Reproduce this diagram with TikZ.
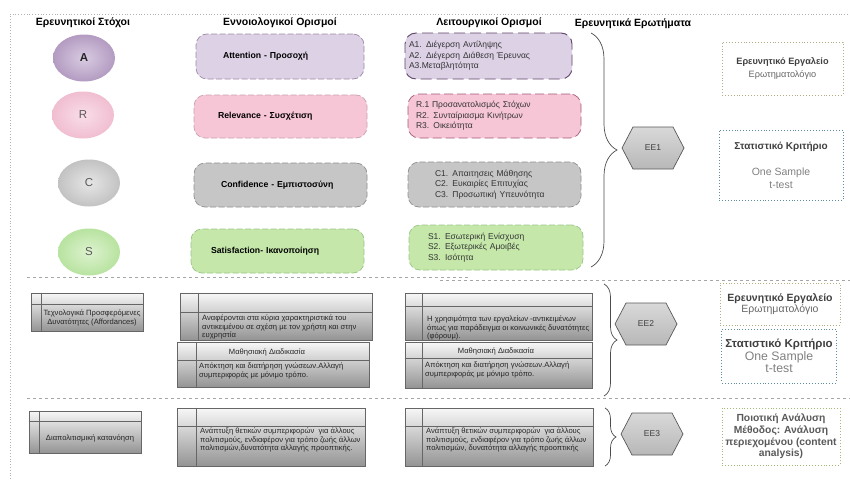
\documentclass[tikz,border=0pt]{standalone}
\usepackage{fontspec}
\setmainfont{Liberation Sans}
\usetikzlibrary{positioning}
\usetikzlibrary{calc}
\usetikzlibrary{shapes.geometric}
\usetikzlibrary{decorations.pathreplacing}

\definecolor{purpFill}{HTML}{DDD1E6}
\definecolor{purpEdge}{HTML}{9C8AA6}
\definecolor{purpDark}{HTML}{5E4468}
\definecolor{purpIn}{HTML}{D9CBE2}
\definecolor{purpOut}{HTML}{B39BC1}
\definecolor{pinkFill}{HTML}{F7C6D6}
\definecolor{pinkEdge}{HTML}{C9A0B0}
\definecolor{pinkDark}{HTML}{A05A78}
\definecolor{pinkIn}{HTML}{F9DDE8}
\definecolor{pinkOut}{HTML}{F0BED0}
\definecolor{grayFill}{HTML}{C6C6C6}
\definecolor{grayEdge}{HTML}{8E8E8E}
\definecolor{grayIn}{HTML}{E6E6E6}
\definecolor{grayOut}{HTML}{C2C2C2}
\definecolor{grnFill}{HTML}{C5E8AA}
\definecolor{grnEdge}{HTML}{98C486}
\definecolor{grnIn}{HTML}{DDF2CF}
\definecolor{grnOut}{HTML}{B8E3A0}
\definecolor{toolOlive}{HTML}{B3AE86}
\definecolor{toolTeal}{HTML}{5E8E9E}
\definecolor{toolGreen}{HTML}{A4B878}

\begin{document}
\begin{tikzpicture}[x=1pt, y=-1pt,
    colhead/.style={font=\bfseries\fontsize{10.5}{12}\selectfont},
    goalnode/.style={ellipse, inner sep=0, minimum width=62, minimum height=47, font=\fontsize{11.5}{13}\selectfont, text=black!65},
    conbox/.style={rounded corners=11, dash pattern=on 6pt off 2.5pt, line width=0.7pt, align=left, font=\bfseries\fontsize{8.7}{10}\selectfont},
    opbox/.style={rounded corners=11, dash pattern=on 6pt off 2.5pt, line width=0.7pt, align=left, font=\fontsize{8.5}{10.5}\selectfont, text=black!80},
    cellbox/.style={draw=black!60, line width=0.6pt, top color=black!3, middle color=black!16, bottom color=black!42},
    cellline/.style={draw=black!60, line width=0.6pt},
    celltext/.style={font=\fontsize{7.6}{8.5}\selectfont, align=left, text=black!85, inner sep=1pt},
    toolbox/.style={dotted, line width=0.9pt, align=center, text=black!75},
    hexshape/.style={draw=black!65, line width=0.7pt, top color=black!15, bottom color=black!28},
    bracestyle/.style={decorate, draw=black!70, line width=0.7pt},
    divider/.style={draw=black!35, dashed, line width=0.6pt}]

  \useasboundingbox (0,0) rectangle (850,479);

  % frame and dividers
  \draw[black!30, dotted, line width=0.8pt] (10,479) -- (10,14) -- (850,14);
  \draw[divider] (27,277) -- (470,277);
  \draw[divider] (440,280) -- (850,280);
  \draw[divider] (27,398) -- (850,398);

  % column heads
  \node[colhead] (hgoal) at (83,23) {Ερευνητικοί Στόχοι};
  \node[colhead] (hconc) at (280,23) {Εννοιολογικοί Ορισμοί};
  \node[colhead] (hoper) at (489,23) {Λειτουργικοί Ορισμοί};
  \node[colhead] (hques) at (633,24) {Ερευνητικά Ερωτήματα};

  % ARCS goals
  \node[goalnode, inner color=purpIn, outer color=purpOut, text=black!85, font=\bfseries\fontsize{11.5}{13}\selectfont] (gA) at (84,58) {A};
  \node[goalnode, inner color=pinkIn, outer color=pinkOut] (gR) at (83,115) {R};
  \node[goalnode, inner color=grayIn, outer color=grayOut] (gC) at (89,183) {C};
  \node[goalnode, inner color=grnIn, outer color=grnOut] (gS) at (89,252) {S};

  % concept boxes
  \node[conbox, draw=purpEdge, fill=purpFill, text width=114, minimum width=168, minimum height=45] (cA) at (280,56.5) {Attention - Προσοχή};
  \node[conbox, draw=pinkEdge, fill=pinkFill, text width=125, minimum width=173, minimum height=43] (cR) at (280.5,116.5) {Relevance - Συσχέτιση};
  \node[conbox, draw=grayEdge, fill=grayFill, text width=119, minimum width=173, minimum height=44] (cC) at (280.5,185) {Confidence - Εμπιστοσύνη};
  \node[conbox, draw=grnEdge, fill=grnFill, text width=133, minimum width=173, minimum height=44] (cS) at (277.5,251) {Satisfaction- Ικανοποίηση};

  % operational boxes
  \node[opbox, draw=purpDark, fill=purpFill, dash pattern=on 11pt off 5pt, line width=0.9pt, text width=159, minimum width=167, minimum height=46] (oA) at (488.5,56)
    {A1. Διέγερση Αντίληψης\\A2. Διέγερση Διάθεση Έρευνας\\A3.Μεταβλητότητα};
  \node[opbox, draw=pinkDark, fill=pinkFill, dash pattern=on 9pt off 4pt, text width=157, minimum width=173, minimum height=44] (oR) at (494.5,116)
    {R.1 Προσανατολισμός Στόχων\\R2. Συνταίριασμα Κινήτρων\\R3. Οικειότητα};
  \node[opbox, draw=grayEdge, fill=grayFill, text width=119, minimum width=173, minimum height=45] (oC) at (494.5,184.5)
    {C1. Απαιτησεις Μάθησης\\C2. Ευκαιρίες Επιτυχίας\\C3. Προσωπική Υπευνότητα};
  \node[opbox, draw=grnEdge, fill=grnFill, text width=136, minimum width=174, minimum height=45] (oS) at (496,247.5)
    {S1. Εσωτερική Ενίσχυση\\S2. Εξωτερικές Αμοιβές\\S3. Ισότητα};

  % table cells of rows 2 and 3
  \foreach \nm/\cx/\cy/\w/\h/\hl/\vl in {tech/87/312/112/38/12/11, c2a/276/316.5/192/47/20/19,
      c2b/273/364.5/192/45/19/20, o2a/498.5/316.5/187/47/14/18, o2b/498.5/365/187/46/17/18,
      intc/85/432/112/42/11/11, c3/271/437/188/58/19/20, o3/499/437/188/58/19/18} {
    \node[cellbox, minimum width=\w, minimum height=\h] (\nm) at (\cx,\cy) {};
    \draw[cellline] ($(\nm.north west)+(\vl,0)$) -- ($(\nm.south west)+(\vl,0)$);
    \draw[cellline] ($(\nm.north west)+(0,\hl)$) -- ($(\nm.north east)+(0,\hl)$);
  }

  \node[celltext, align=center] (techtxt) at (92,318) {Τεχνολογικά Προσφερόμενες\\Δυνατότητες (Affordances)};
  \node[celltext, anchor=north west] (c2atxt) at (201,314) {Αναφέρονται στα κύρια χαρακτηριστικά του\\αντικειμένου σε σχέση με τον χρήστη και στην\\ευχρηστία};
  \node[celltext] (c2bhead) at (267,352) {Μαθησιακή Διαδικασία};
  \node[celltext, anchor=north west] (c2btxt) at (198,362) {Απόκτηση και διατήρηση γνώσεων.Αλλαγή\\συμπεριφοράς με μόνιμο τρόπο.};
  \node[celltext, anchor=north west] (o2atxt) at (426,315) {Η χρησιμότητα των εργαλείων -αντικειμένων\\όπως για παράδειγμα οι κοινωνικές δυνατότητες\\(φόρουμ).};
  \node[celltext] (o2bhead) at (496,351) {Μαθησιακή Διαδικασία};
  \node[celltext, anchor=north west] (o2btxt) at (424,361) {Απόκτηση και διατήρηση γνώσεων.Αλλαγή\\συμπεριφοράς με μόνιμο τρόπο.};
  \node[celltext] (intctxt) at (90,438) {Διαπολιτισμική κατανόηση};
  \node[celltext, anchor=north west] (c3txt) at (199,427) {Ανάπτυξη θετικών συμπεριφορών\ \ για άλλους\\πολιτισμούς, ενδιαφέρον για τρόπο ζωής άλλων\\πολιτισμών,δυνατότητα αλλαγής προοπτικής.};
  \node[celltext, anchor=north west] (o3txt) at (425,427) {Ανάπτυξη θετικών συμπεριφορών\ \ για άλλους\\πολιτισμούς, ενδιαφέρον για τρόπο ζωής άλλων\\πολιτισμών, δυνατότητα αλλαγής προοπτικής};

  % braces
  \coordinate (b1top) at (591,33);
  \coordinate (b1bot) at (591,267);
  \coordinate (b2top) at (604,284);
  \coordinate (b2bot) at (604,396);
  \coordinate (b3top) at (605,408);
  \coordinate (b3bot) at (605,466);
  \draw[bracestyle, decoration={brace, amplitude=26}] (b1top) -- (b1bot);
  \draw[bracestyle, decoration={brace, amplitude=13}] (b2top) -- (b2bot);
  \draw[bracestyle, decoration={brace, amplitude=11}] (b3top) -- (b3bot);

  % research questions
  \foreach \n/\hx/\hy in {1/622/148, 2/615/324, 3/621/434} {
    \draw[hexshape] (\hx,\hy) -- (\hx+11,\hy-21) -- (\hx+51,\hy-21) -- (\hx+62,\hy) -- (\hx+51,\hy+21) -- (\hx+11,\hy+21) -- cycle;
    \node[font=\fontsize{8.5}{10}\selectfont, text=black!75] (ee\n) at (\hx+31,\hy) {EE\n};
  }

  % tools and tests
  \node[toolbox, draw=toolOlive, minimum width=121, minimum height=53, font=\fontsize{9.2}{12.5}\selectfont] (tool1) at (782.5,68.5)
    {\textbf{Ερευνητικό Εργαλείο}\\\textcolor{black!60}{Ερωτηματολόγιο}};
  \node[toolbox, draw=toolTeal, minimum width=124, minimum height=70, font=\fontsize{10.5}{13}\selectfont] (test1) at (781,165)
    {\textbf{\fontsize{10}{13}\selectfont Στατιστικό Κριτήριο}\\[13pt]\textcolor{black!50}{One Sample}\\\textcolor{black!50}{t-test}};
  \node[toolbox, draw=toolOlive, minimum width=120, minimum height=42, font=\fontsize{10.5}{11.5}\selectfont] (tool2) at (780,304)
    {\textbf{Ερευνητικό Εργαλείο}\\\textcolor{black!60}{Ερωτηματολόγιο}};
  \node[toolbox, draw=toolTeal, minimum width=114, minimum height=54, font=\fontsize{12.3}{12.5}\selectfont] (test2) at (779,356)
    {\textbf{\fontsize{11.5}{12.5}\selectfont Στατιστικό Κριτήριο}\\\textcolor{black!50}{One Sample}\\\textcolor{black!50}{t-test}};
  \node[toolbox, draw=toolGreen, minimum width=118, minimum height=57, font=\bfseries\fontsize{10.3}{11.7}\selectfont, text=black!65] (qual) at (781,436.5)
    {Ποιοτική Ανάλυση\\Μέθοδος: Ανάλυση\\περιεχομένου (content\\analysis)};

\end{tikzpicture}
\end{document}
